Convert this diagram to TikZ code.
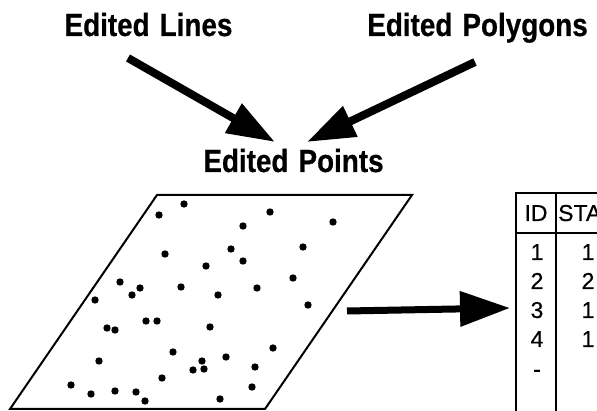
\documentclass[tikz,border=0pt]{standalone}
\usepackage{fontspec}
\setmainfont{Liberation Sans}
\newfontfamily\headfont[FakeStretch=0.87,FakeBold=0.6,WordSpace=1.3]{Liberation Sans Bold}
\newfontfamily\cellfont[FakeBold=0.5]{Liberation Sans}
\usetikzlibrary{arrows.meta}

\begin{document}
\begin{tikzpicture}[x=1pt,y=-1pt,
  title/.style={anchor=base,inner sep=0pt,font=\headfont\fontsize{32}{32}\selectfont},
  cell/.style={anchor=base,inner sep=0pt,font=\cellfont\fontsize{23}{23}\selectfont},
  dot/.style={fill=black,draw=none},
  bigarrow/.style={line width=8pt,-{Triangle[length=48pt,width=32pt]}},
  rule/.style={line width=2pt,line cap=rect}]
  \useasboundingbox (0,0) rectangle (597,411);
  \clip (0,0) rectangle (597,411);

  % headings
  \node[title] (lines) at (148.5,36) {Edited Lines};
  \node[title] (polys) at (477.5,36) {Edited Polygons};
  \node[title] (points) at (293.5,172) {Edited Points};

  % arrow ends
  \coordinate (linesTail) at (128,58);
  \coordinate (linesTip)  at (275,142);
  \coordinate (polysTail) at (475,62);
  \coordinate (polysTip)  at (307,142);
  \draw[bigarrow] (linesTail) -- (linesTip);
  \draw[bigarrow] (polysTail) -- (polysTip);

  % point layer
  \draw[line width=2pt,line join=miter] (157,195) coordinate (pTL) -- (412,195) coordinate (pTR)
    -- (265,409) coordinate (pBR) -- (10,409) coordinate (pBL) -- cycle;
  \foreach \px/\py in {159/215,184/204,270/212,333/222,243/226,165/254,231/249,303/247,
      243/261,206/266,293/278,120/282,140/288,132/295,181/287,257/288,218/295,95/300,
      308/305,146/321,157/321,107/328,115/330,210/327,273/348,173/352,226/357,99/361,
      202/361,193/370,204/369,255/367,162/378,252/387,71/385,91/394,115/391,136/392,
      145/401,220/399}
    \fill[dot] (\px,\py) circle (3.7pt);

  % arrow to the attribute table
  \coordinate (tableTail) at (347,311);
  \coordinate (tableTip) at (510,308);
  \draw[line width=7pt,-{Triangle[length=50pt,width=34pt]}] (tableTail) -- (tableTip);

  % attribute table
  \draw[rule] (516,411) -- (516,193) -- (600,193);
  \draw[rule] (556,193) -- (556,411);
  \draw[rule] (516,233) -- (600,233);
  \node[cell] (hid) at (536,221) {ID};
  \node[cell,anchor=base west] (hsta) at (558,221) {STATUS};
  \foreach \i/\v/\yy in {1/1/260,2/2/289,3/1/318,4/1/347}{
    \node[cell] (id\i) at (537,\yy) {\i};
    \node[cell] (st\i) at (588,\yy) {\v};
  }
  \node[cell] (idmore) at (537,377) {-};
\end{tikzpicture}
\end{document}
